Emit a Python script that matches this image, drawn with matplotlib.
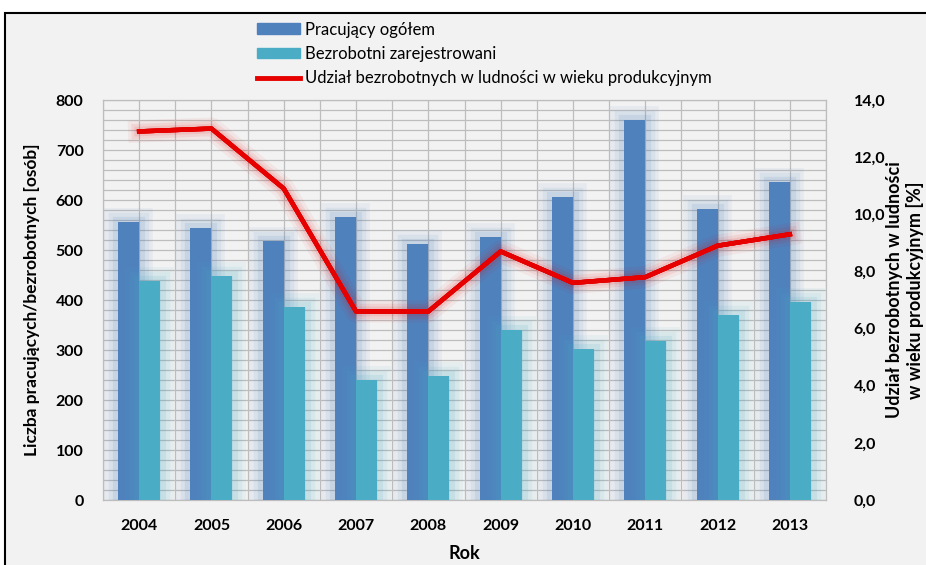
import matplotlib
matplotlib.use("Agg")
import matplotlib.pyplot as plt
import matplotlib.patheffects as pe
from matplotlib.patches import Rectangle
from matplotlib.lines import Line2D
import numpy as np

plt.rcParams['font.family'] = ['Lato', 'DejaVu Sans']

years = ['2004', '2005', '2006', '2007', '2008', '2009', '2010', '2011', '2012', '2013']
pracujacy = [557, 545, 519, 567, 512, 527, 607, 761, 583, 637]
bezrobotni = [439, 449, 387, 241, 249, 340, 303, 319, 371, 397]
udzial = [12.9, 13.0, 10.9, 6.6, 6.6, 8.7, 7.6, 7.8, 8.9, 9.3]

left_ticks = [0, 100, 200, 300, 400, 500, 600, 700, 800]
right_ticks = [0, 2, 4, 6, 8, 10, 12, 14]
right_ticklabels = ['0,0', '2,0', '4,0', '6,0', '8,0', '10,0', '12,0', '14,0']

c_blue = '#4F81BD'
c_cyan = '#4BACC6'
c_red = '#E60000'
bg = '#F2F2F2'

W, H = 926, 565
fig = plt.figure(figsize=(W / 100, H / 100), dpi=100)
fig.patch.set_facecolor('white')

# framed chart area
frame = Rectangle((5 / W, -0.1), 1.2, 1 - 13 / H + 0.1, transform=fig.transFigure,
                  facecolor=bg, edgecolor='black', linewidth=1.5, zorder=-10)
fig.patches.append(frame)

ax = fig.add_axes([103 / W, 65 / H, 723 / W, 400 / H])
ax.set_zorder(1)
ax.set_facecolor(bg)
x = np.arange(len(years))
bw = 0.29

def glow(color, widths=(20, 14, 8), alphas=(0.07, 0.09, 0.12)):
    effs = [pe.withStroke(linewidth=w, foreground=color, alpha=a) for w, a in zip(widths, alphas)]
    return effs + [pe.Normal()]

b1 = ax.bar(x - bw / 2, pracujacy, width=bw, color=c_blue, zorder=3)
b2 = ax.bar(x + bw / 2, bezrobotni, width=bw, color=c_cyan, zorder=3)
for p in b1:
    p.set_path_effects(glow(c_blue))
for p in b2:
    p.set_path_effects(glow(c_cyan))

ax.set_xlim(-0.5, len(years) - 0.5)
ax.set_ylim(0, 800)
ax.set_yticks(left_ticks)
ax.set_yticks(np.arange(0, 801, 20), minor=True)
ax.set_xticks(x)
ax.set_xticklabels(years)
ax.set_xticks(np.arange(-0.5, len(years), 0.5), minor=True)
ax.grid(True, which='both', axis='both', color='#BDBDBD', linewidth=0.9, zorder=0)
ax.set_axisbelow(True)
ax.tick_params(axis='both', which='both', length=0)
ax.tick_params(axis='y', pad=14, labelsize=11.5)
ax.tick_params(axis='x', pad=14, labelsize=11.5)
for lab in ax.get_xticklabels() + ax.get_yticklabels():
    lab.set_fontweight('bold')
for s in ax.spines.values():
    s.set_color('#BDBDBD')
    s.set_linewidth(0.9)

ax.set_ylabel('Liczba pracujących/bezrobotnych [osób]', fontsize=12.5, fontweight='bold', labelpad=11)
ax.set_xlabel('Rok', fontsize=13, fontweight='bold', labelpad=8)

ax2 = ax.twinx()
ax2.set_zorder(2)
ax2.set_ylim(0, 14)
ax2.set_yticks(right_ticks)
ax2.set_yticklabels(right_ticklabels)
ax2.tick_params(axis='y', length=0, pad=20, labelsize=11.5)
for lab in ax2.get_yticklabels():
    lab.set_fontweight('bold')
for s in ax2.spines.values():
    s.set_visible(False)
ax2.plot(x, udzial, color=c_red, linewidth=3.2, zorder=5,
         path_effects=glow(c_red, widths=(16, 11, 7), alphas=(0.05, 0.07, 0.09)))

fig.text(905 / W, 1 - 290 / H, 'Udział bezrobotnych w ludności\nw wieku produkcyjnym [%]',
         rotation=90, ha='center', va='center', fontsize=13, fontweight='bold',
         multialignment='center', linespacing=1.2)

handles = [Rectangle((0, 0), 1, 1, color=c_blue),
           Rectangle((0, 0), 1, 1, color=c_cyan),
           Line2D([0], [0], color=c_red, linewidth=3.5)]
labels = ['Pracujący ogółem', 'Bezrobotni zarejestrowani',
          'Udział bezrobotnych w ludności w wieku produkcyjnym']
fig.legend(handles, labels, loc='upper left', bbox_to_anchor=(250 / W, 1 - 15 / H),
           frameon=False, fontsize=12, handlelength=2.6, handleheight=0.6,
           handletextpad=0.3, labelspacing=0.5, borderaxespad=0)

fig.savefig('out.png', dpi=100, facecolor=fig.get_facecolor())
